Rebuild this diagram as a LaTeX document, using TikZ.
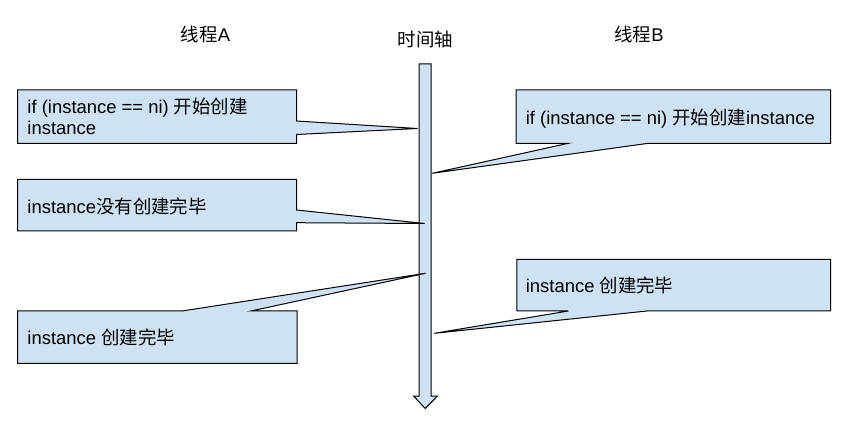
\documentclass[tikz,border=0pt]{standalone}
\usepackage{fontspec}
\setmainfont{Liberation Sans}
\newfontfamily\cjk{Noto Sans CJK SC}
\definecolor{callfill}{HTML}{CFE2F3}
\tikzset{
  callout/.style={draw=black, fill=callfill, line width=1bp, line join=miter},
  lbl/.style={anchor=base west, inner sep=0pt, font=\fontsize{18.5}{21}\selectfont},
  ttl/.style={inner sep=0pt, font=\fontsize{18.5}{21}\selectfont}
}
\begin{document}
\begin{tikzpicture}[x=1bp,y=-1bp]
\useasboundingbox (0,0) rectangle (851,438);
% time axis
\draw[callout] (419,64) -- (431,64) -- (431,396) -- (437.5,396) -- (425.2,408.5) -- (413.5,396) -- (419,396) -- cycle;
% titles
\node[ttl] (tA) at (205.5,34) {{\cjk 线程}A};
\node[ttl] (tT) at (425.5,39.5) {\cjk 时间轴};
\node[ttl] (tB) at (639,34) {{\cjk 线程}B};
% thread A callouts
\draw[callout] (17.5,90) -- (296.5,90) -- (296.5,121) -- (417.5,128.5) -- (296.5,134.5) -- (296.5,143.5) -- (17.5,143.5) -- cycle;
\node[lbl] (a1) at (27.3,113.3) {if (instance == ni) {\cjk 开始创建}};
\node[lbl] (a1b) at (27.3,134.5) {instance};
\draw[callout] (17.5,179.5) -- (296.5,179.5) -- (296.5,210) -- (424.5,223.5) -- (296.5,222.7) -- (296.5,231) -- (17.5,231) -- cycle;
\node[lbl] (a2) at (27.3,214) {instance{\cjk 没有创建完毕}};
\draw[callout] (17.5,311) -- (182,311) -- (425.5,273.3) -- (251,311) -- (297,311) -- (297,363.3) -- (17.5,363.3) -- cycle;
\node[lbl] (a3) at (27.3,345) {instance {\cjk 创建完毕}};
% thread B callouts
\draw[callout] (516,90) -- (830.7,90) -- (830.7,143.3) -- (648.3,143.3) -- (432.3,173.3) -- (568.3,143.3) -- (516,143.3) -- cycle;
\node[lbl] (b1) at (525.7,124.5) {if (instance == ni) {\cjk 开始创建}instance};
\draw[callout] (516.8,259.3) -- (830.6,259.3) -- (830.6,311) -- (647,311) -- (434.3,333.3) -- (568.4,311) -- (516.8,311) -- cycle;
\node[lbl] (b2) at (525.7,293) {instance {\cjk 创建完毕}};
\end{tikzpicture}
\end{document}
